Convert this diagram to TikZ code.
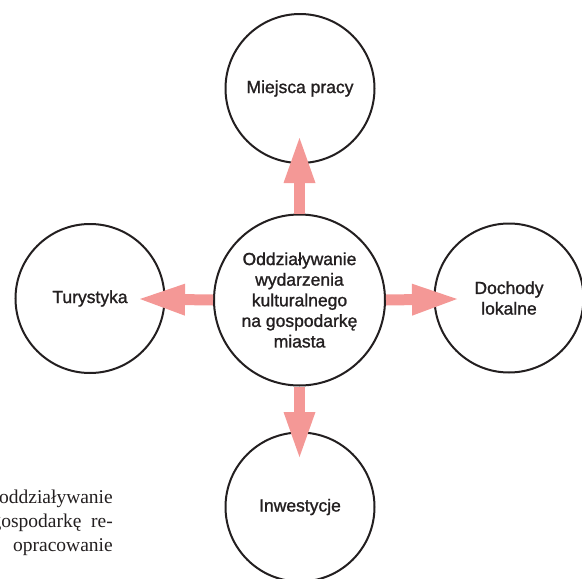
\documentclass[tikz,border=0pt]{standalone}
\usepackage{fontspec}
\setmainfont{Liberation Sans}
\newfontfamily\labelfont{Liberation Sans}[FakeBold=1.2]
\newfontfamily\capfont{Liberation Serif}
\usetikzlibrary{arrows.meta}
\definecolor{pinkarr}{RGB}{244,152,150}
\definecolor{ink}{RGB}{35,31,32}
\begin{document}
\begin{tikzpicture}[x=1pt,y=-1pt,
  bubble/.style={circle, draw=ink, line width=2pt, fill=white, inner sep=0pt, align=center, text=ink, font=\labelfont\fontsize{17.5}{20.6}\selectfont},
  small/.style={bubble, minimum size=149pt},
  flow/.style={draw=pinkarr, line width=11pt, -{Triangle[width=32pt,length=45pt,line width=0pt]}},
  captext/.style={anchor=base east, inner sep=0pt, text=ink, font=\capfont\fontsize{19.5}{24}\selectfont}]
\useasboundingbox (0,0) rectangle (582,579);
% circles
\node[bubble, minimum size=171pt] (c) at (299.5,300) {Oddziaływanie\\wydarzenia\\kulturalnego\\na gospodarkę\\miasta};
\node[small] (top) at (300,88.5) {Miejsca pracy};
\node[small] (left) at (90,298.5) {Turystyka};
\node[small] (right) at (509,298) {Dochody\\lokalne};
\node[small] (bottom) at (300,507) {Inwestycje};
% arrow tips
\coordinate (tipT) at (299.5,138);
\coordinate (tipB) at (299.5,457);
\coordinate (tipL) at (140,299);
\coordinate (tipR) at (457,299);
\draw[flow] (c.north) -- (tipT);
\draw[flow] (c.south) -- (tipB);
\draw[flow] (c.west) -- (tipL);
\draw[flow] (c.east) -- (tipR);
% caption fragment
\node[captext] (cap1) at (113,503) {oddziaływanie};
\node[captext] (cap2) at (113,527) {gospodarkę\ \ re-};
\node[captext] (cap3) at (113,551) {opracowanie};
\end{tikzpicture}
\end{document}
